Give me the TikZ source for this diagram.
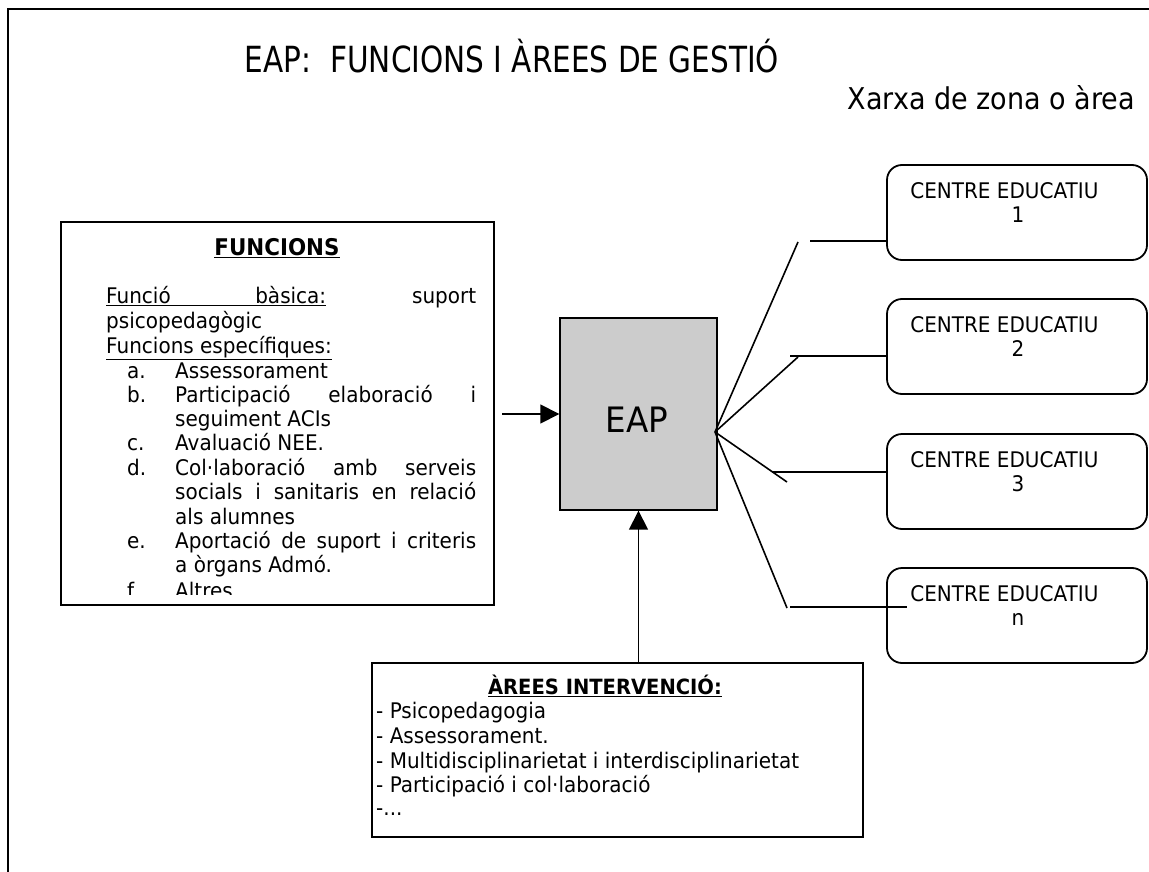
\documentclass[tikz,border=0pt]{standalone}
\usepackage{fontspec}
\setmainfont{DejaVu Sans}[FakeStretch=0.93]
\newfontfamily\titlefont{DejaVu Sans}[FakeStretch=0.82]
\newfontfamily\subfont{DejaVu Sans}[FakeStretch=0.9]
\usetikzlibrary{arrows.meta,calc}
\definecolor{eapgray}{HTML}{CCCCCC}
\newcommand\myul[1]{\vtop{\hbox{#1}\kern1.6pt\hrule height 1.3pt}}
\tikzset{
  frame/.style={line width=2pt},
  box/.style={draw, line width=1.8pt, inner sep=0pt},
  cbox/.style={box, rounded corners=15pt, minimum width=260pt, minimum height=95pt},
  link/.style={line width=1.6pt},
  arr/.style={line width=1.6pt, -{Triangle[length=19pt,width=19pt]}},
  body/.style={inner sep=0pt, anchor=base west, font=\fontsize{21.5}{26}\selectfont},
  numtxt/.style={inner sep=0pt, anchor=base, font=\fontsize{21.5}{26}\selectfont},
  head/.style={inner sep=0pt, anchor=base, font=\bfseries\fontsize{#1}{#1}\selectfont},
}
\begin{document}
\begin{tikzpicture}[x=1pt,y=-1pt]
\useasboundingbox (0,0) rectangle (1149,872);
% outer frame (top and left)
\draw[frame] (8,872) -- (8,9) -- (1149,9);

% titles
\node[inner sep=0pt, anchor=base, font=\titlefont\fontsize{36}{42}\selectfont] (title) at (512,73) {EAP:\ \ FUNCIONS I ÀREES DE GESTIÓ};
\node[inner sep=0pt, anchor=base east, font=\subfont\fontsize{30}{36}\selectfont] (sub) at (1135,110) {Xarxa de zona o àrea};

% FUNCIONS box
\node[box, minimum width=433pt, minimum height=383pt] (func) at (277.5,413.5) {};
\node[head=23] (funch) at (277,255) {\myul{FUNCIONS}};
\begin{scope}
\clip (61,222) rectangle (494,594);
\node[body] (l1) at (106,303) {\makebox[370pt][s]{\myul{\makebox[220pt][s]{Funció bàsica:}} suport}};
\node[body] (l2) at (106,328) {psicopedagògic};
\node[body] (l3) at (106,353) {\myul{Funcions específiques:}};
\node[body] (la) at (127,378) {a.};
\node[body] (ta) at (175,378) {Assessorament};
\node[body] (lb) at (127,402) {b.};
\node[body] (tb) at (175,402) {\makebox[301pt][s]{Participació elaboració i}};
\node[body] (tb2) at (175,426) {seguiment ACIs};
\node[body] (lc) at (127,450) {c.};
\node[body] (tc) at (175,450) {Avaluació NEE.};
\node[body] (ld) at (127,475) {d.};
\node[body] (td) at (175,475) {\makebox[301pt][s]{Col·laboració amb serveis}};
\node[body] (td2) at (175,499) {\makebox[301pt][s]{socials i sanitaris en relació}};
\node[body] (td3) at (175,524) {als alumnes};
\node[body] (le) at (127,548) {e.};
\node[body] (te) at (175,548) {\makebox[301pt][s]{Aportació de suport i criteris}};
\node[body] (te2) at (175,572) {a òrgans Admó.};
\node[body] (lf) at (127,598) {f.};
\node[body] (tf) at (175,598) {Altres};
\end{scope}

% EAP box
\node[box, fill=eapgray, line width=1.4pt, minimum width=157pt, minimum height=192pt] (eap) at (638.5,414) {};
\node[inner sep=0pt, anchor=base, font=\fontsize{35}{40}\selectfont] (eapt) at (637,432) {EAP};

% AREES box
\node[box, minimum width=491pt, minimum height=174pt] (arees) at (617.5,750) {};
\node[head=21] (areesh) at (605,694) {\myul{ÀREES INTERVENCIÓ:}};
\node[body] (a1) at (376,718) {- Psicopedagogia};
\node[body] (a2) at (376,743) {- Assessorament.};
\node[body] (a3) at (376,768) {- Multidisciplinarietat i interdisciplinarietat};
\node[body] (a4) at (376,792) {- Participació i col·laboració};
\node[body] (a5) at (376,815) {-...};

% centre boxes
\node[cbox] (c1) at (1017,212.5) {};
\node[cbox] (c2) at (1017,346.5) {};
\node[cbox] (c3) at (1017,481.5) {};
\node[cbox] (c4) at (1017,615.5) {};
\foreach \c/\n in {c1/1,c2/2,c3/3,c4/n}{
  \node[body] at ($(\c.north west)+(24,34)$) {CENTRE EDUCATIU};
  \node[numtxt] at ($(\c.north)+(1,58)$) {\n};
}

% arrows
\coordinate (fa) at (502,414);
\draw[arr] (fa) -- (eap.west);
\draw[arr] (eap.south |- arees.north) -- (eap.south);

% fan
\coordinate (fan) at (715,432);
\coordinate (f1) at (798,242);
\coordinate (f2) at (798,357);
\coordinate (f3) at (787,482);
\coordinate (f4) at (787,608);
\foreach \f in {f1,f2,f3,f4}{\draw[link] (fan) -- (\f);}
\coordinate (h1) at (810,241);
\coordinate (h2) at (790,356);
\coordinate (h3) at (772,472);
\coordinate (h4) at (790,607);
\coordinate (h4e) at (907,607);
\draw[link] (h1) -- (h1 -| c1.west);
\draw[link] (h2) -- (h2 -| c2.west);
\draw[link] (h3) -- (h3 -| c3.west);
\draw[link] (h4) -- (h4e);
\end{tikzpicture}
\end{document}
